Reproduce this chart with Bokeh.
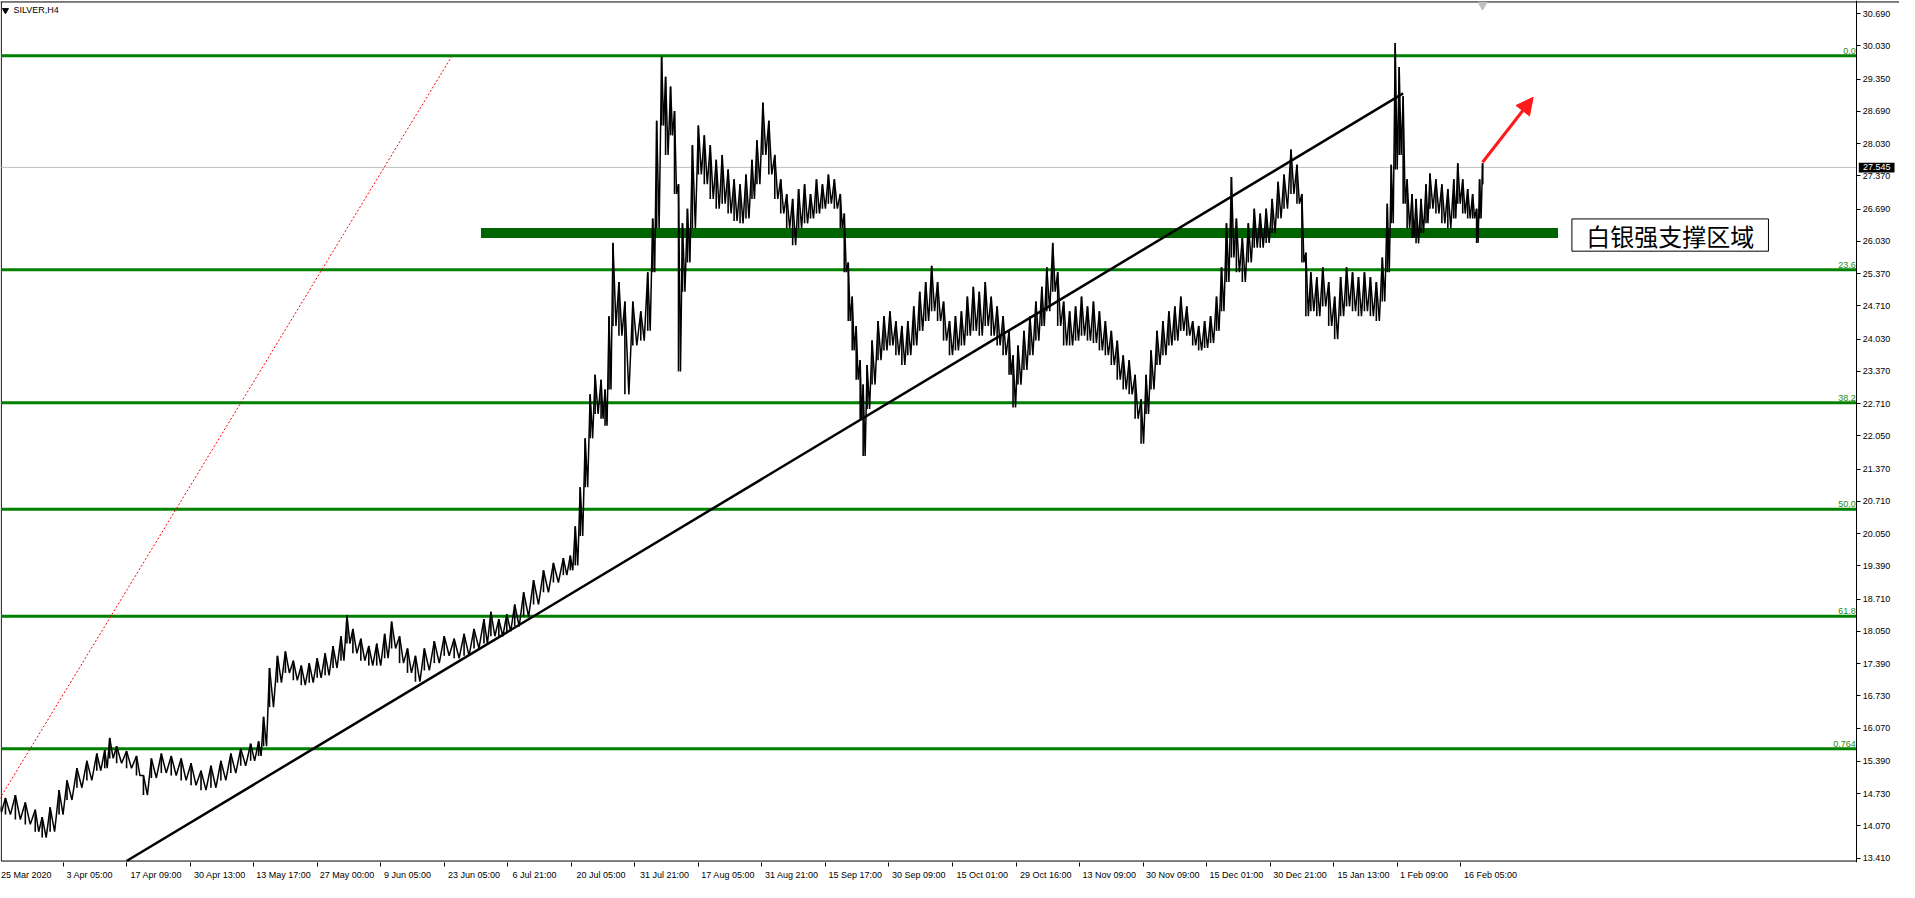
from bokeh.plotting import figure
from bokeh.models import (ColumnDataSource, FixedTicker, PrintfTickFormatter,
                          Label, LabelSet, Arrow, NormalHead, Range1d, LinearAxis)
from bokeh.embed import file_html
from bokeh.resources import INLINE
from bokeh.core.properties import value

# ---------------- data ----------------
sample_bar = [0, 8, 18, 28, 38, 45, 53, 62, 70, 80, 90, 100, 108, 113, 120, 130, 140, 147, 155, 165,
              175, 185, 195, 205, 215, 225, 235, 245, 255, 263, 268, 274, 282, 290, 298, 306, 314, 322,
              330, 338, 346, 352, 358, 366, 374, 382, 390, 397, 405, 413, 421, 430, 440, 450, 460, 470,
              480, 490, 497, 505, 513, 521, 530, 540, 550, 560, 570, 577, 582, 587, 592, 597, 602, 608,
              612, 616, 620, 626, 632, 640, 648, 655, 660, 664, 669, 673, 678, 682, 686, 690, 695, 700,
              706, 712, 718, 724, 730, 736, 742, 748, 754, 760, 765, 771, 777, 783, 789, 795, 801, 807,
              813, 819, 825, 831, 837, 843, 849, 853, 857, 861, 865, 869, 872, 876, 881, 887, 893, 899,
              905, 911, 917, 923, 929, 935, 941, 947, 953, 959, 965, 971, 977, 983, 989, 995, 1001, 1007,
              1013, 1019, 1023, 1028, 1034, 1040, 1046, 1052, 1057, 1063, 1068, 1074, 1080, 1086, 1092,
              1098, 1104, 1110, 1116, 1122, 1128, 1134, 1140, 1146, 1152, 1157, 1162, 1168, 1174, 1180,
              1186, 1192, 1198, 1204, 1210, 1216, 1222, 1228, 1233, 1238, 1243, 1248, 1254, 1260, 1266,
              1272, 1278, 1284, 1290, 1296, 1303, 1309, 1314, 1318, 1323, 1329, 1335, 1341, 1347, 1353,
              1359, 1365, 1371, 1377, 1383, 1389, 1395, 1400, 1404, 1408, 1412, 1416, 1420, 1425, 1429,
              1434, 1439, 1443, 1449, 1455, 1461, 1467, 1471, 1476, 1481, 1486, 1490, 1493, 1496]

bar_high = [14.60, 14.64, 14.70, 14.55, 14.40, 14.25, 14.45, 14.80, 15.00, 15.25, 15.40, 15.55, 15.62, 15.87,
            15.70, 15.60, 15.50, 15.10, 15.45, 15.55, 15.50, 15.45, 15.35, 15.20, 15.30, 15.40, 15.55, 15.65,
            15.75, 15.80, 16.30, 17.30, 17.55, 17.64, 17.45, 17.35, 17.40, 17.50, 17.60, 17.75, 17.95, 18.38,
            18.10, 17.90, 17.75, 17.80, 18.00, 18.25, 17.95, 17.70, 17.55, 17.70, 17.85, 17.95, 17.90, 18.00,
            18.10, 18.30, 18.45, 18.30, 18.40, 18.60, 18.85, 19.10, 19.30, 19.45, 19.55, 19.60, 20.20, 21.00,
            22.00, 22.90, 23.30, 23.20, 23.00, 24.50, 26.00, 25.20, 24.80, 24.80, 24.60, 25.40, 26.50, 28.50,
            29.81, 29.40, 29.20, 28.70, 27.20, 26.40, 26.70, 28.00, 28.40, 28.20, 28.00, 27.70, 27.80, 27.50,
            27.30, 27.20, 27.40, 27.70, 28.10, 28.87, 28.50, 27.80, 27.30, 27.00, 26.90, 27.10, 27.20, 27.00,
            27.30, 27.20, 27.40, 27.30, 27.00, 26.60, 25.60, 24.90, 24.30, 23.60, 23.10, 23.50, 24.00, 24.40,
            24.50, 24.60, 24.40, 24.30, 24.40, 24.70, 25.00, 25.20, 25.53, 25.20, 24.80, 24.40, 24.50, 24.60,
            24.90, 25.10, 25.00, 25.20, 24.90, 24.70, 24.50, 24.20, 23.70, 23.90, 24.20, 24.50, 24.80, 25.10,
            25.50, 26.00, 25.40, 24.80, 24.60, 24.70, 24.90, 24.70, 24.80, 24.60, 24.40, 24.20, 24.00, 23.70,
            23.60, 23.30, 22.80, 23.30, 23.80, 24.20, 24.40, 24.60, 24.70, 24.90, 24.70, 24.40, 24.30, 24.40,
            24.50, 24.90, 25.50, 26.40, 27.35, 26.50, 26.10, 26.40, 26.70, 26.60, 26.70, 26.90, 27.25, 27.40,
            27.91, 27.60, 27.00, 25.80, 25.40, 25.30, 25.50, 25.20, 24.90, 25.30, 25.50, 25.40, 25.30, 25.40,
            25.30, 25.20, 25.70, 26.80, 27.60, 30.09, 29.60, 29.00, 27.30, 27.00, 26.90, 26.90, 27.20, 27.42,
            27.30, 27.20, 27.10, 27.30, 27.63, 27.30, 27.10, 27.00, 26.70, 27.30, 27.63]

bar_low = [14.35, 14.30, 14.20, 14.10, 13.95, 13.83, 13.95, 14.30, 14.60, 14.85, 15.00, 15.20, 15.25, 15.45,
           15.35, 15.25, 15.10, 14.70, 15.05, 15.15, 15.10, 15.00, 14.90, 14.80, 14.85, 15.00, 15.15, 15.30,
           15.40, 15.50, 15.70, 16.50, 17.00, 17.20, 17.05, 16.95, 17.00, 17.10, 17.15, 17.30, 17.45, 17.80,
           17.60, 17.45, 17.35, 17.35, 17.50, 17.70, 17.40, 17.20, 17.02, 17.25, 17.40, 17.55, 17.50, 17.55,
           17.70, 17.80, 17.95, 17.95, 18.05, 18.15, 18.35, 18.60, 18.85, 19.05, 19.20, 19.30, 19.40, 20.00,
           21.00, 22.00, 22.50, 22.40, 22.26, 23.00, 24.30, 24.10, 22.90, 23.90, 24.00, 24.20, 25.40, 26.30,
           28.40, 27.80, 28.20, 27.00, 23.37, 25.00, 25.60, 26.30, 27.40, 27.20, 26.90, 26.70, 26.80, 26.60,
           26.45, 26.40, 26.50, 26.90, 27.20, 27.80, 27.40, 26.90, 26.60, 26.30, 25.95, 26.30, 26.40, 26.50,
           26.60, 26.70, 26.80, 26.70, 26.30, 25.40, 24.40, 23.80, 23.20, 22.40, 21.64, 22.60, 23.10, 23.60,
           23.80, 23.90, 23.70, 23.50, 23.70, 23.90, 24.20, 24.40, 24.60, 24.40, 24.00, 23.70, 23.80, 23.90,
           24.10, 24.20, 24.10, 24.30, 24.10, 23.90, 23.70, 23.30, 22.63, 23.10, 23.40, 23.70, 24.00, 24.30,
           24.60, 25.00, 24.30, 23.90, 23.90, 24.00, 24.10, 24.00, 23.95, 23.80, 23.70, 23.50, 23.20, 23.00,
           22.90, 22.40, 21.89, 22.50, 23.00, 23.50, 23.70, 23.90, 24.00, 24.20, 24.10, 23.90, 23.80, 23.85,
           23.95, 24.20, 24.60, 25.20, 25.70, 25.40, 25.20, 25.60, 25.90, 25.90, 26.00, 26.20, 26.50, 26.70,
           27.00, 26.80, 25.60, 24.50, 24.60, 24.50, 24.70, 24.30, 24.03, 24.50, 24.70, 24.60, 24.50, 24.60,
           24.50, 24.40, 24.80, 25.40, 26.40, 27.50, 27.80, 26.80, 26.30, 26.10, 25.99, 26.20, 26.40, 26.70,
           26.60, 26.40, 26.30, 26.50, 26.80, 26.60, 26.50, 26.50, 26.00, 26.50, 27.20]

x_tick_bars = [2, 66, 130, 194, 258, 322, 386, 450, 514, 578, 642, 706, 770, 834, 898, 962,
               1026, 1090, 1154, 1218, 1282, 1346, 1410, 1474]
x_tick_labels = ["25 Mar 2020", "3 Apr 05:00", "17 Apr 09:00", "30 Apr 13:00", "13 May 17:00",
                 "27 May 00:00", "9 Jun 05:00", "23 Jun 05:00", "6 Jul 21:00", "20 Jul 05:00",
                 "31 Jul 21:00", "17 Aug 05:00", "31 Aug 21:00", "15 Sep 17:00", "30 Sep 09:00",
                 "15 Oct 01:00", "29 Oct 16:00", "13 Nov 09:00", "30 Nov 09:00", "15 Dec 01:00",
                 "30 Dec 21:00", "15 Jan 13:00", "1 Feb 09:00", "16 Feb 05:00"]
y_tick_values = [30.69, 30.03, 29.35, 28.69, 28.03, 27.37, 26.69, 26.03, 25.37, 24.71, 24.03, 23.37,
                 22.71, 22.05, 21.37, 20.71, 20.05, 19.39, 18.71, 18.05, 17.39, 16.73, 16.07, 15.39,
                 14.73, 14.07, 13.41]

fib_levels = [29.83, 25.45, 22.73, 20.55, 18.36, 15.65]
fib_labels = ["0.0", "23.6", "38.2", "50.0", "61.8", "0.764"]

current_price = 27.545
support_level = 26.20
support_bars = [487, 1572]
trend_bars = [130, 1416]
trend_prices = [13.35, 29.06]
fibo_diag_bars = [0, 458]
fibo_diag_prices = [14.55, 29.83]
arrow_bars = [1496, 1547]
arrow_prices = [27.65, 28.98]
note_text = "白银强支撑区域"
symbol_text = "SILVER,H4"

# ---------------- layout constants (screen geometry, not data) ----------------
FONT = "Liberation Sans"
X0, X1 = 3, 1916             # bar units, 1 bar ~ 1 px
AXIS_X = 1873                # where the price scale sits
TOP_P, BOT_P = 30.93, 13.35  # price at the chart's top / bottom border
Y0, Y1 = 13.32, 30.96
LEFT_B = X0 + 0.8

p = figure(width=1899, height=882, output_backend="svg", toolbar_location=None,
           x_range=Range1d(X0, X1), y_range=Range1d(Y0, Y1),
           y_axis_location=None, min_border_left=0, min_border_top=0,
           min_border_bottom=16, min_border_right=0,
           background_fill_color="white", border_fill_color="white",
           outline_line_color=None)
p.grid.visible = False

# chart borders (top spans the whole width, like the terminal window)
p.segment(x0=[X0, LEFT_B, LEFT_B], y0=[TOP_P, BOT_P, BOT_P], x1=[X1, AXIS_X, LEFT_B], y1=[TOP_P, BOT_P, TOP_P],
          line_color="black", line_width=1)

# price scale on the right, drawn at a fixed location inside the frame
yax = LinearAxis(fixed_location=AXIS_X, ticker=FixedTicker(ticks=y_tick_values),
                 formatter=PrintfTickFormatter(format="%.3f"),
                 major_label_text_font=FONT, major_label_text_font_size="9px",
                 major_label_text_color="black", major_tick_out=4, major_tick_in=0,
                 minor_tick_out=0, minor_tick_in=0, major_label_standoff=2,
                 axis_line_color="black", major_tick_line_color="black")
p.add_layout(yax, "right")

# bottom time axis: visible marks are minor ticks at the real positions,
# labels (invisible major ticks) sit just right of each mark
label_pos = [int(round(b + 2 + 2.3 * len(t))) for b, t in zip(x_tick_bars, x_tick_labels)]
xax = p.xaxis[0]
xax.ticker = FixedTicker(ticks=label_pos, minor_ticks=x_tick_bars)
xax.major_label_overrides = {pos: t for pos, t in zip(label_pos, x_tick_labels)}
xax.major_label_text_font = FONT
xax.major_label_text_font_size = "9px"
xax.major_label_text_color = "black"
xax.major_label_standoff = 3
xax.major_tick_out = 0
xax.major_tick_in = 0
xax.major_tick_line_color = None
xax.minor_tick_out = 4
xax.minor_tick_in = 0
xax.minor_tick_line_color = "black"
xax.axis_line_color = None

# fibonacci levels
nf = len(fib_levels)
p.segment(x0=[LEFT_B] * nf, x1=[AXIS_X] * nf, y0=fib_levels, y1=fib_levels, line_color="#008000", line_width=3)
fib_src = ColumnDataSource(dict(x=[AXIS_X - 1] * nf, y=[lv + 0.04 for lv in fib_levels], t=fib_labels))
p.add_layout(LabelSet(x="x", y="y", text="t", source=fib_src, text_align="right",
                      text_baseline="bottom", text_font=value(FONT), text_font_size="9px",
                      text_color="#2a8a10"))

# current price line
p.line([LEFT_B, AXIS_X], [current_price, current_price], line_color="#c0c0c0", line_width=1)

# fibo diagonal (red dotted)
p.line(fibo_diag_bars, fibo_diag_prices, line_color="#ff0000", line_width=1, line_dash="2 2")

# support band
p.line(support_bars, [support_level, support_level], line_color="#006400", line_width=10)

# price bars: high-low strokes and a sawtooth path through them
p.segment(x0=sample_bar, y0=bar_low, x1=sample_bar, y1=bar_high, line_color="black", line_width=1.6)
px, py = [], []
n = len(sample_bar)
for i in range(n):
    nb = sample_bar[i + 1] if i + 1 < n else sample_bar[i]
    px += [sample_bar[i], (sample_bar[i] + nb) / 2]
    py += [bar_high[i], bar_low[i]]
px.append(sample_bar[-1])
py.append(current_price)
p.line(px, py, line_color="black", line_width=1.5)

# trend line
p.line(trend_bars, trend_prices, line_color="black", line_width=2.5)

# red arrow
p.add_layout(Arrow(end=NormalHead(size=17, fill_color="#ff1a1a", line_color="#ff1a1a"),
                   x_start=arrow_bars[0], y_start=arrow_prices[0],
                   x_end=arrow_bars[1], y_end=arrow_prices[1],
                   line_color="#ff1a1a", line_width=3))

# note box
p.quad(left=[1586], right=[1784], top=[26.49], bottom=[25.83],
       fill_color="white", line_color="black", line_width=1)
p.text(x=[1685], y=[26.16], text=[note_text], text_align="center", text_baseline="middle",
       text_font=value("Noto Sans CJK SC"), text_font_size="24px", text_color="black")

# symbol header
p.scatter(x=[8], y=[30.76], marker="inverted_triangle", size=6, fill_color="black", line_color="black")
p.add_layout(Label(x=16, y=30.76, text=symbol_text, text_baseline="middle", text_align="left",
                   text_font=FONT, text_font_size="9px", text_color="black"))

# chart shift marker
p.scatter(x=[1496], y=[30.87], marker="inverted_triangle", size=9, fill_color="#c0c0c0",
          line_color="#c0c0c0")

# current price tag on the price scale
p.quad(left=[AXIS_X + 2], right=[AXIS_X + 38], top=[current_price + 0.095], bottom=[current_price - 0.105],
       fill_color="black", line_color=None, level="overlay")
p.text(x=[AXIS_X + 20], y=[current_price], text=["27.545"], text_align="center", text_baseline="middle",
       text_font=value(FONT), text_font_size="9px", text_color="white", level="overlay")

open("out.html", "w").write(file_html(p, INLINE))
